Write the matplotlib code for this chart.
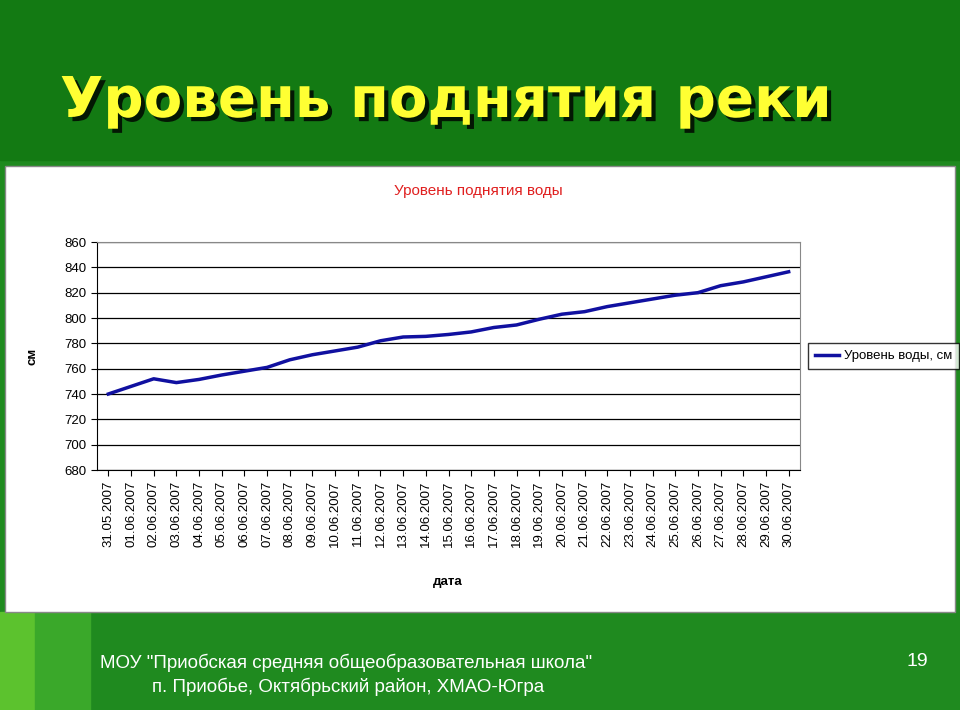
import matplotlib
matplotlib.use("Agg")
import matplotlib.pyplot as plt
import matplotlib.patheffects as pe
from matplotlib.patches import Rectangle

plt.rcParams["font.family"] = ["Liberation Sans", "DejaVu Sans"]

dates = ["31.05.2007"] + [f"{d:02d}.06.2007" for d in range(1, 31)]
levels = [740, 746, 752, 749, 751.5, 755, 758, 761, 767, 771, 774, 777, 782, 785, 785.5, 787,
          789, 792.5, 794.5, 799, 803, 805, 809, 812, 815, 818, 820, 825.5, 828.5, 832.5, 836.5]
yticks = list(range(680, 861, 20))

W, H = 960, 710
fig = plt.figure(figsize=(9.6, 7.1), dpi=100)
fig.patch.set_facecolor("#1f8a1f")
bg = fig.add_axes([0, 0, 1, 1]); bg.set_xlim(0, W); bg.set_ylim(H, 0); bg.axis("off")
bg.add_patch(Rectangle((0, 0), W, 160, color="#137a13"))
bg.add_patch(Rectangle((0, 612), 35, 98, color="#5cc22e"))
bg.add_patch(Rectangle((35, 612), 55, 98, color="#3aa82a"))
bg.add_patch(Rectangle((5, 166), 950, 446, facecolor="white", edgecolor="#888888", lw=1))
bg.text(60, 102, "Уровень поднятия реки", color="#ffff33", fontsize=40.5, fontweight="bold",
        family="DejaVu Sans", va="center", ha="left",
        path_effects=[pe.withSimplePatchShadow(offset=(3, -3), shadow_rgbFace="black", alpha=0.8)])
bg.text(478, 191, "Уровень поднятия воды", color="#e02020", fontsize=11, ha="center", va="center")
bg.text(100, 663, 'МОУ "Приобская средняя общеобразовательная школа"', color="white", fontsize=13.5, va="center")
bg.text(152, 687, "п. Приобье, Октябрьский район, ХМАО-Югра", color="white", fontsize=13.5, va="center")
bg.text(906, 662, "19", color="white", fontsize=14, va="center")
bg.text(32, 356, "см", rotation=90, fontsize=9.5, fontweight="bold", ha="center", va="center")
bg.text(448, 582, "дата", fontsize=9.5, fontweight="bold", ha="center", va="center")

ax = fig.add_axes([97 / W, 1 - 470 / H, 703 / W, 228 / H])
x = list(range(len(dates)))
ax.plot(x, levels, color="#1010a0", lw=2.5, label="Уровень воды, см")
ax.set_xlim(-0.5, len(dates) - 0.5)
ax.set_ylim(680, 860)
ax.set_yticks(yticks)
ax.set_yticklabels([str(v) for v in yticks], fontsize=9.5)
ax.set_xticks(x)
ax.set_xticklabels(dates, rotation=90, fontsize=9.5)
ax.grid(axis="y", color="black", lw=0.9)
ax.set_axisbelow(True)
for s in ["top", "right"]:
    ax.spines[s].set_color("#888888")
ax.tick_params(length=4)
leg = ax.legend(loc="center left", bbox_to_anchor=(1.012, 0.5), fontsize=9.5, frameon=True,
                fancybox=False, edgecolor="black", handlelength=1.8, handletextpad=0.4,
                borderaxespad=0, borderpad=0.5)
fig.savefig("out.png", dpi=100, facecolor=fig.get_facecolor())
